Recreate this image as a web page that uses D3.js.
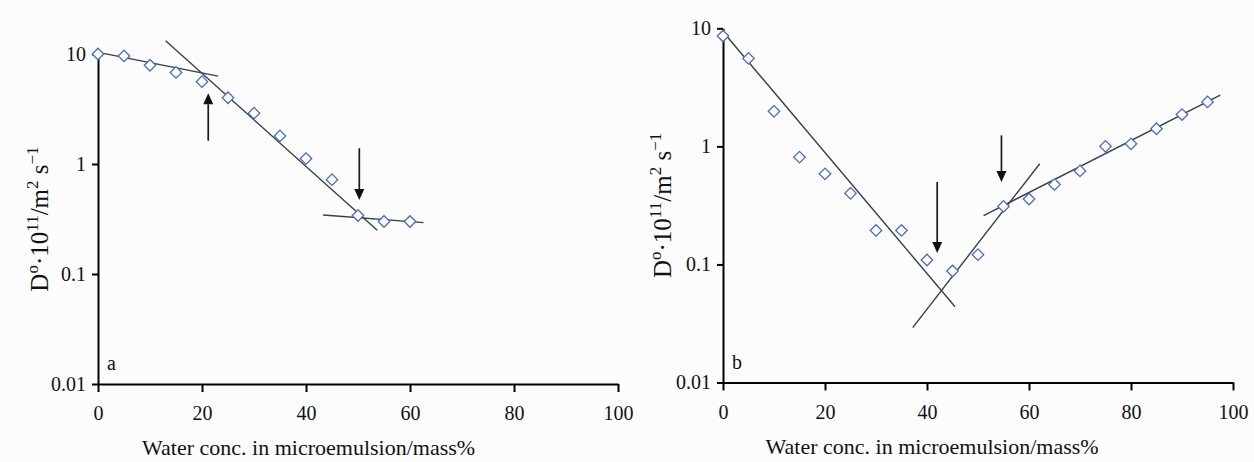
<!DOCTYPE html>
<html>
<head>
<meta charset="utf-8">
<script src="https://cdn.jsdelivr.net/npm/d3@7"></script>
<style>
  body { margin: 0; background: #fcfcfd; }
  svg { display: block; }
  text { font-family: "Liberation Serif", "Times New Roman", serif; fill: #111; }
</style>
</head>
<body>
<svg id="chart"></svg>
<script>
// Panel a: water content (mass%) vs self-diffusion coefficient
const waterA = [0, 5, 10, 15, 20, 25, 30, 35, 40, 45, 50, 55, 60];
const diffA = [10, 9.6, 7.9, 6.8, 5.6, 4.0, 2.9, 1.8, 1.12, 0.72, 0.34, 0.30, 0.30];
const fitsA = [
   [[-0.2, 10.4], [23.1, 6.3]],
   [[13, 13.2], [53.7, 0.25]],
   [[43.3, 0.344], [62.6, 0.293]]
];
const arrowsA = [
   { x: 21.2, from: 1.63, to: 4.4 },
   { x: 50.25, from: 1.39, to: 0.47 }
];

// Panel b
const waterB = [0, 5, 10, 15, 20, 25, 30, 35, 40, 45, 50, 55, 60, 65, 70, 75, 80, 85, 90, 95];
const diffB = [8.6, 5.56, 1.98, 0.81, 0.585, 0.40, 0.194, 0.194, 0.109, 0.088, 0.121,
   0.31, 0.358, 0.476, 0.62, 1.0, 1.05, 1.41, 1.86, 2.38];
const fitsB = [
   [[0, 9.36], [45.5, 0.0438]],
   [[37.2, 0.0292], [62.1, 0.713]],
   [[51.1, 0.259], [97.5, 2.71]]
];
const arrowsB = [
   { x: 42, from: 0.5, to: 0.125 },
   { x: 54.6, from: 1.24, to: 0.5 }
];

const xTicks = [0, 20, 40, 60, 80, 100];
const yTicks = [0.01, 0.1, 1, 10];
const yTickLabels = ["0.01", "0.1", "1", "10"];
const xTitle = "Water conc. in microemulsion/mass%";

const width = 1254;
const height = 462;

const svg = d3.select("#chart").attr("width", width).attr("height", height);

const panels = [
   { tag: "a", water: waterA, diff: diffA, fits: fitsA, arrows: arrowsA,
     left: 98, right: 618, top: 54, bottom: 384, titleAt: 40.5, labelOff: 50 },
   { tag: "b", water: waterB, diff: diffB, fits: fitsB, arrows: arrowsB,
     left: 723, right: 1233, top: 28.3, bottom: 382.5, titleAt: 41, labelOff: 52 }
];

panels.forEach((p) => {
   const x = d3.scaleLinear().domain([0, 100]).range([p.left, p.right]);
   const y = d3.scaleLog().domain([0.01, 10]).range([p.bottom, p.top]);

   const g = svg.append("g");

   // Axes
   const xAxis = g.append("g")
      .attr("transform", `translate(0,${p.bottom})`)
      .call(d3.axisBottom(x).tickValues(xTicks).tickSize(8).tickSizeOuter(0).tickPadding(14).tickFormat(d3.format("d")));
   const yAxis = g.append("g")
      .attr("transform", `translate(${p.left},0)`)
      .call(d3.axisLeft(y).tickValues(yTicks).tickSize(6).tickSizeOuter(0).tickPadding(6)
         .tickFormat((d, i) => yTickLabels[i]));

   [xAxis, yAxis].forEach((a) => {
      a.attr("font-family", null).attr("font-size", null);
      a.select(".domain").attr("stroke", "#000").attr("stroke-width", 2);
      a.selectAll(".tick line").attr("stroke", "#000").attr("stroke-width", 2);
      a.selectAll(".tick text").style("font-size", "20px").attr("fill", "#111");
   });

   // Fitted straight lines
   g.selectAll(".fit")
      .data(p.fits)
      .enter()
      .append("path")
      .attr("class", "fit")
      .attr("d", d3.line().x((d) => x(d[0])).y((d) => y(d[1])))
      .attr("fill", "none")
      .attr("stroke", "#34423d")
      .attr("stroke-width", 1.4);

   // Arrows
   p.arrows.forEach((a) => {
      const ax = x(a.x);
      const yFrom = y(a.from);
      const yTo = y(a.to);
      const dir = yTo > yFrom ? 1 : -1;
      const head = 11;
      g.append("line")
         .attr("x1", ax).attr("x2", ax)
         .attr("y1", yFrom).attr("y2", yTo - dir * head)
         .attr("stroke", "#1a1a1a")
         .attr("stroke-width", 1.7);
      g.append("path")
         .attr("d", `M${ax},${yTo} L${ax - 5},${yTo - dir * head} L${ax + 5},${yTo - dir * head} Z`)
         .attr("fill", "#111");
   });

   // Diamond markers
   const pts = p.water.map((w, i) => [w, p.diff[i]]);
   g.selectAll(".pt")
      .data(pts)
      .enter()
      .append("path")
      .attr("class", "pt")
      .attr("d", d3.symbol().type(d3.symbolSquare).size(66))
      .attr("transform", (d) => `translate(${x(d[0])},${y(d[1])}) rotate(45)`)
      .attr("fill", "#fdfdff")
      .attr("stroke", "#4a6cbc")
      .attr("stroke-width", 1.3);

   // Panel tag
   g.append("text")
      .attr("x", p.left + 9)
      .attr("y", p.bottom - 14)
      .style("font-size", "20px")
      .text(p.tag);

   // X title
   g.append("text")
      .attr("x", x(p.titleAt))
      .attr("y", p.bottom + 71)
      .attr("text-anchor", "middle")
      .style("font-size", "22px")
      .text(xTitle);

   // Y title with superscripts
   const yt = g.append("text")
      .attr("transform", `translate(${p.left - p.labelOff},${(p.top + p.bottom) / 2}) rotate(-90)`)
      .attr("text-anchor", "middle")
      .style("font-size", "25px");
   const parts = [
      { t: "D" }, { t: "o", sup: true }, { t: "\u00b710" }, { t: "11", sup: true },
      { t: "/m" }, { t: "2", sup: true }, { t: " s" }, { t: "\u22121", sup: true }
   ];
   let shifted = false;
   parts.forEach((s) => {
      const ts = yt.append("tspan").text(s.t);
      if (s.sup) {
         ts.attr("dy", shifted ? 0 : -10).style("font-size", "17px");
         shifted = true;
      } else if (shifted) {
         ts.attr("dy", 10);
         shifted = false;
      }
   });
});
</script>
</body>
</html>
